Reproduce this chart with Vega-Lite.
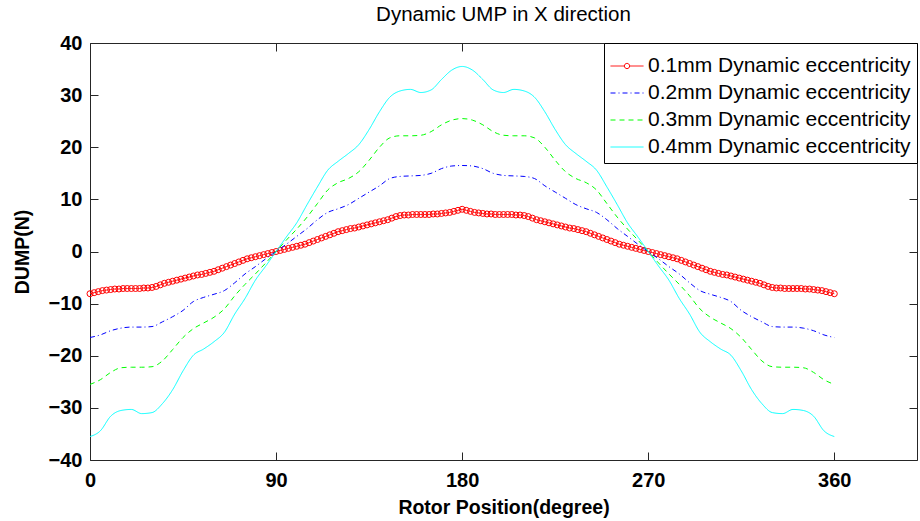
{
  "$schema": "https://vega.github.io/schema/vega-lite/v6.json",
  "width": 827,
  "height": 417,
  "autosize": "none",
  "padding": {"left": 90, "top": 43, "right": 3, "bottom": 61},
  "background": "white",
  "title": {"text": "Dynamic UMP in X direction", "font": "Liberation Sans", "fontSize": 20.5, "fontWeight": "normal", "color": "black", "anchor": "middle", "offset": 8},
  "config": {"view": {"stroke": "#262626", "strokeWidth": 1}, "font": "Liberation Sans"},
  "datasets": {
    "red": [
      {"t":0,"a":-8.1},{"t":2,"a":-7.9},{"t":4,"a":-7.7},{"t":6,"a":-7.5},{"t":8,"a":-7.4},{"t":10,"a":-7.3},{"t":12,"a":-7.2},{"t":14,"a":-7.2},{"t":16,"a":-7.1},{"t":18,"a":-7.1},
      {"t":20,"a":-7.1},{"t":22,"a":-7.1},{"t":24,"a":-7.1},{"t":26,"a":-7.0},{"t":28,"a":-7.0},{"t":30,"a":-6.9},{"t":32,"a":-6.7},{"t":34,"a":-6.4},{"t":36,"a":-6.1},{"t":38,"a":-5.9},
      {"t":40,"a":-5.7},{"t":42,"a":-5.5},{"t":44,"a":-5.3},{"t":46,"a":-5.1},{"t":48,"a":-4.9},{"t":50,"a":-4.7},{"t":52,"a":-4.5},{"t":54,"a":-4.4},{"t":56,"a":-4.2},{"t":58,"a":-4.0},
      {"t":60,"a":-3.8},{"t":62,"a":-3.5},{"t":64,"a":-3.2},{"t":66,"a":-2.9},{"t":68,"a":-2.6},{"t":70,"a":-2.3},{"t":72,"a":-2.0},{"t":74,"a":-1.7},{"t":76,"a":-1.4},{"t":78,"a":-1.2},
      {"t":80,"a":-1.0},{"t":82,"a":-0.8},{"t":84,"a":-0.6},{"t":86,"a":-0.4},{"t":88,"a":-0.2},{"t":90,"a":0},{"t":92,"a":0.2},{"t":94,"a":0.4},{"t":96,"a":0.6},{"t":98,"a":0.8},
      {"t":100,"a":1.0},{"t":102,"a":1.2},{"t":104,"a":1.4},{"t":106,"a":1.7},{"t":108,"a":2.0},{"t":110,"a":2.3},{"t":112,"a":2.6},{"t":114,"a":2.9},{"t":116,"a":3.2},{"t":118,"a":3.5},
      {"t":120,"a":3.8},{"t":122,"a":4.0},{"t":124,"a":4.2},{"t":126,"a":4.4},{"t":128,"a":4.5},{"t":130,"a":4.7},{"t":132,"a":4.9},{"t":134,"a":5.1},{"t":136,"a":5.3},{"t":138,"a":5.5},
      {"t":140,"a":5.7},{"t":142,"a":5.9},{"t":144,"a":6.1},{"t":146,"a":6.4},{"t":148,"a":6.7},{"t":150,"a":6.9},{"t":152,"a":7.0},{"t":154,"a":7.0},{"t":156,"a":7.1},{"t":158,"a":7.1},
      {"t":160,"a":7.1},{"t":162,"a":7.1},{"t":164,"a":7.1},{"t":166,"a":7.2},{"t":168,"a":7.2},{"t":170,"a":7.3},{"t":172,"a":7.4},{"t":174,"a":7.5},{"t":176,"a":7.7},{"t":178,"a":7.9},
      {"t":180,"a":8.1},{"t":182,"a":7.9},{"t":184,"a":7.7},{"t":186,"a":7.5},{"t":188,"a":7.4},{"t":190,"a":7.3},{"t":192,"a":7.2},{"t":194,"a":7.2},{"t":196,"a":7.1},{"t":198,"a":7.1},
      {"t":200,"a":7.1},{"t":202,"a":7.1},{"t":204,"a":7.1},{"t":206,"a":7.0},{"t":208,"a":7.0},{"t":210,"a":6.9},{"t":212,"a":6.7},{"t":214,"a":6.4},{"t":216,"a":6.1},{"t":218,"a":5.9},
      {"t":220,"a":5.7},{"t":222,"a":5.5},{"t":224,"a":5.3},{"t":226,"a":5.1},{"t":228,"a":4.9},{"t":230,"a":4.7},{"t":232,"a":4.5},{"t":234,"a":4.4},{"t":236,"a":4.2},{"t":238,"a":4.0},
      {"t":240,"a":3.8},{"t":242,"a":3.5},{"t":244,"a":3.2},{"t":246,"a":2.9},{"t":248,"a":2.6},{"t":250,"a":2.3},{"t":252,"a":2.0},{"t":254,"a":1.7},{"t":256,"a":1.4},{"t":258,"a":1.2},
      {"t":260,"a":1.0},{"t":262,"a":0.8},{"t":264,"a":0.6},{"t":266,"a":0.4},{"t":268,"a":0.2},{"t":270,"a":0},{"t":272,"a":-0.2},{"t":274,"a":-0.4},{"t":276,"a":-0.6},{"t":278,"a":-0.8},
      {"t":280,"a":-1.0},{"t":282,"a":-1.2},{"t":284,"a":-1.4},{"t":286,"a":-1.7},{"t":288,"a":-2.0},{"t":290,"a":-2.3},{"t":292,"a":-2.6},{"t":294,"a":-2.9},{"t":296,"a":-3.2},{"t":298,"a":-3.5},
      {"t":300,"a":-3.8},{"t":302,"a":-4.0},{"t":304,"a":-4.2},{"t":306,"a":-4.4},{"t":308,"a":-4.5},{"t":310,"a":-4.7},{"t":312,"a":-4.9},{"t":314,"a":-5.1},{"t":316,"a":-5.3},{"t":318,"a":-5.5},
      {"t":320,"a":-5.7},{"t":322,"a":-5.9},{"t":324,"a":-6.1},{"t":326,"a":-6.4},{"t":328,"a":-6.7},{"t":330,"a":-6.9},{"t":332,"a":-7.0},{"t":334,"a":-7.0},{"t":336,"a":-7.1},{"t":338,"a":-7.1},
      {"t":340,"a":-7.1},{"t":342,"a":-7.1},{"t":344,"a":-7.1},{"t":346,"a":-7.2},{"t":348,"a":-7.2},{"t":350,"a":-7.3},{"t":352,"a":-7.4},{"t":354,"a":-7.5},{"t":356,"a":-7.7},{"t":358,"a":-7.9},
      {"t":360,"a":-8.1}
    ],
    "others": [
      {"t":0,"b":-16.5,"c":-25.5,"d":-35.5},
      {"t":5,"b":-16.0,"c":-24.6,"d":-34.4},
      {"t":10,"b":-15.2,"c":-23.2,"d":-31.6},
      {"t":15,"b":-14.7,"c":-22.3,"d":-30.5},
      {"t":20,"b":-14.5,"c":-22.2,"d":-30.3},
      {"t":25,"b":-14.5,"c":-22.2,"d":-31.1},
      {"t":30,"b":-14.4,"c":-22.1,"d":-30.9},
      {"t":35,"b":-13.5,"c":-21.0,"d":-29.2},
      {"t":40,"b":-12.5,"c":-18.8,"d":-26.5},
      {"t":45,"b":-11.3,"c":-16.5,"d":-22.9},
      {"t":50,"b":-9.6,"c":-14.8,"d":-19.9},
      {"t":55,"b":-8.8,"c":-13.7,"d":-18.7},
      {"t":60,"b":-8.2,"c":-12.6,"d":-17.3},
      {"t":65,"b":-7.5,"c":-11.0,"d":-15.5},
      {"t":70,"b":-6.0,"c":-8.5,"d":-12.0},
      {"t":75,"b":-4.3,"c":-6.3,"d":-9.0},
      {"t":80,"b":-2.9,"c":-4.3,"d":-5.5},
      {"t":85,"b":-1.4,"c":-2.2,"d":-2.8},
      {"t":90,"b":0,"c":0,"d":0},
      {"t":95,"b":1.4,"c":2.2,"d":2.8},
      {"t":100,"b":2.9,"c":4.3,"d":5.5},
      {"t":105,"b":4.4,"c":6.6,"d":9.0},
      {"t":110,"b":6.1,"c":9.2,"d":12.4},
      {"t":115,"b":7.5,"c":11.8,"d":15.6},
      {"t":120,"b":8.2,"c":13.2,"d":17.3},
      {"t":125,"b":9.0,"c":14.0,"d":18.8},
      {"t":130,"b":10.2,"c":15.3,"d":20.5},
      {"t":135,"b":11.4,"c":17.5,"d":23.4},
      {"t":140,"b":12.6,"c":20.0,"d":26.8},
      {"t":145,"b":14.0,"c":21.8,"d":29.6},
      {"t":150,"b":14.4,"c":22.2,"d":30.8},
      {"t":155,"b":14.5,"c":22.2,"d":31.1},
      {"t":160,"b":14.6,"c":22.3,"d":30.5},
      {"t":165,"b":15.0,"c":23.0,"d":31.0},
      {"t":170,"b":15.9,"c":24.3,"d":33.0},
      {"t":175,"b":16.4,"c":25.2,"d":34.8},
      {"t":180,"b":16.5,"c":25.5,"d":35.5},
      {"t":185,"b":16.4,"c":25.2,"d":34.8},
      {"t":190,"b":15.9,"c":24.3,"d":33.0},
      {"t":195,"b":15.0,"c":23.0,"d":31.0},
      {"t":200,"b":14.6,"c":22.3,"d":30.5},
      {"t":205,"b":14.5,"c":22.2,"d":31.1},
      {"t":210,"b":14.4,"c":22.2,"d":30.8},
      {"t":215,"b":14.0,"c":21.8,"d":29.6},
      {"t":220,"b":12.6,"c":20.0,"d":26.8},
      {"t":225,"b":11.4,"c":17.5,"d":23.4},
      {"t":230,"b":10.2,"c":15.3,"d":20.5},
      {"t":235,"b":9.0,"c":14.0,"d":18.8},
      {"t":240,"b":8.2,"c":13.2,"d":17.3},
      {"t":245,"b":7.5,"c":11.8,"d":15.6},
      {"t":250,"b":6.1,"c":9.2,"d":12.4},
      {"t":255,"b":4.4,"c":6.6,"d":9.0},
      {"t":260,"b":2.9,"c":4.3,"d":5.5},
      {"t":265,"b":1.4,"c":2.2,"d":2.8},
      {"t":270,"b":0,"c":0,"d":0},
      {"t":275,"b":-1.4,"c":-2.2,"d":-2.8},
      {"t":280,"b":-2.9,"c":-4.3,"d":-5.5},
      {"t":285,"b":-4.3,"c":-6.3,"d":-9.0},
      {"t":290,"b":-6.0,"c":-8.5,"d":-12.0},
      {"t":295,"b":-7.5,"c":-11.0,"d":-15.5},
      {"t":300,"b":-8.2,"c":-12.6,"d":-17.3},
      {"t":305,"b":-8.8,"c":-13.7,"d":-18.7},
      {"t":310,"b":-9.6,"c":-14.8,"d":-19.9},
      {"t":315,"b":-11.3,"c":-16.5,"d":-22.9},
      {"t":320,"b":-12.5,"c":-18.8,"d":-26.5},
      {"t":325,"b":-13.5,"c":-21.0,"d":-29.2},
      {"t":330,"b":-14.4,"c":-22.1,"d":-30.9},
      {"t":335,"b":-14.5,"c":-22.2,"d":-31.1},
      {"t":340,"b":-14.5,"c":-22.2,"d":-30.3},
      {"t":345,"b":-14.7,"c":-22.3,"d":-30.5},
      {"t":350,"b":-15.2,"c":-23.2,"d":-31.6},
      {"t":355,"b":-16.0,"c":-24.6,"d":-34.4},
      {"t":360,"b":-16.5,"c":-25.5,"d":-35.5}
    ]
  },
  "resolve": {"axis": {"x": "independent", "y": "independent"}},
  "layer": [
    {
      "data": {"name": "red"},
      "transform": [{"fold": ["a"], "as": ["s", "v"]}],
      "mark": {"type": "line", "strokeWidth": 1, "interpolate": "monotone"},
      "encoding": {
        "x": {"field": "t", "type": "quantitative", "scale": {"domain": [0, 400], "nice": false, "zero": false},
          "axis": {"orient": "bottom", "values": [0, 90, 180, 270, 360], "title": "Rotor Position(degree)", "titleFont": "Liberation Sans", "titleFontSize": 19.5, "titleFontWeight": "bold", "titleColor": "black", "titlePadding": 8,
            "labelFont": "Liberation Sans", "labelFontSize": 20, "labelFontWeight": "bold", "labelColor": "black", "labelPadding": 18, "labelFlush": false, "labelOverlap": false,
            "tickSize": -8, "tickColor": "#262626", "domain": false, "grid": false}},
        "y": {"field": "v", "type": "quantitative", "scale": {"domain": [-40, 40], "nice": false, "zero": false},
          "axis": {"orient": "left", "values": [-40, -30, -20, -10, 0, 10, 20, 30, 40], "title": "DUMP(N)", "titleFont": "Liberation Sans", "titleFontSize": 19.5, "titleFontWeight": "bold", "titleColor": "black", "titlePadding": 16,
            "labelFont": "Liberation Sans", "labelFontSize": 20, "labelFontWeight": "bold", "labelColor": "black", "labelPadding": 16, "labelFlush": false, "labelOverlap": false,
            "tickSize": -8, "tickColor": "#262626", "domain": false, "grid": false}},
        "color": {"field": "s", "type": "nominal", "scale": {"domain": ["a", "b", "c", "d"], "range": ["#ff0000", "#0000ff", "#00ff00", "#00ffff"]},
          "legend": {"title": null, "orient": "top-right", "offset": 0, "strokeColor": "#000", "fillColor": "white", "padding": 6, "cornerRadius": 0,
            "labelFont": "Liberation Sans", "labelFontSize": 21, "labelColor": "black", "labelOffset": 4, "rowPadding": -1, "labelLimit": 500,
            "symbolType": "stroke", "symbolSize": 1089, "symbolStrokeWidth": 1,
            "labelExpr": "datum.label == 'a' ? '0.1mm Dynamic eccentricity' : datum.label == 'b' ? '0.2mm Dynamic eccentricity' : datum.label == 'c' ? '0.3mm Dynamic eccentricity' : '0.4mm Dynamic eccentricity'",
            "encode": {"symbols": {"update": {"shape": {"signal": "datum.value == 'a' ? 'M-1,0H-0.16M0.16,0H1M0.16,0A0.16,0.16 0 1 1 -0.16,0A0.16,0.16 0 1 1 0.16,0' : 'M-1,0H1'"}, "fill": {"value": "transparent"}}}}}},
        "strokeDash": {"field": "s", "type": "nominal", "scale": {"domain": ["a", "b", "c", "d"], "range": [[1, 0], [5, 3, 1, 3], [5, 4], [1, 0]]},
          "legend": {"title": null, "orient": "top-right", "offset": 0, "strokeColor": "#000", "fillColor": "white", "padding": 6, "cornerRadius": 0,
            "labelFont": "Liberation Sans", "labelFontSize": 21, "labelColor": "black", "labelOffset": 4, "rowPadding": -1, "labelLimit": 500,
            "symbolType": "stroke", "symbolSize": 1089, "symbolStrokeWidth": 1,
            "labelExpr": "datum.label == 'a' ? '0.1mm Dynamic eccentricity' : datum.label == 'b' ? '0.2mm Dynamic eccentricity' : datum.label == 'c' ? '0.3mm Dynamic eccentricity' : '0.4mm Dynamic eccentricity'",
            "encode": {"symbols": {"update": {"shape": {"signal": "datum.value == 'a' ? 'M-1,0H-0.16M0.16,0H1M0.16,0A0.16,0.16 0 1 1 -0.16,0A0.16,0.16 0 1 1 0.16,0' : 'M-1,0H1'"}, "fill": {"value": "transparent"}}}}}}
      }
    },
    {
      "data": {"name": "red"},
      "mark": {"type": "point", "shape": "circle", "filled": false, "color": "#ff0000", "size": 36, "strokeWidth": 1, "opacity": 1},
      "encoding": {
        "x": {"field": "t", "type": "quantitative",
          "axis": {"orient": "top", "values": [0, 90, 180, 270, 360], "title": null, "labels": false, "tickSize": -8, "tickColor": "#262626", "domain": false, "grid": false}},
        "y": {"field": "a", "type": "quantitative",
          "axis": {"orient": "right", "values": [-40, -30, -20, -10, 0, 10, 20, 30, 40], "title": null, "labels": false, "tickSize": -8, "tickColor": "#262626", "domain": false, "grid": false}}
      }
    },
    {
      "data": {"name": "others"},
      "transform": [{"fold": ["b", "c", "d"], "as": ["s", "v"]}],
      "mark": {"type": "line", "strokeWidth": 1, "interpolate": "monotone"},
      "encoding": {
        "x": {"field": "t", "type": "quantitative", "axis": null},
        "y": {"field": "v", "type": "quantitative", "axis": null},
        "color": {"field": "s", "type": "nominal"},
        "strokeDash": {"field": "s", "type": "nominal"}
      }
    }
  ]
}
